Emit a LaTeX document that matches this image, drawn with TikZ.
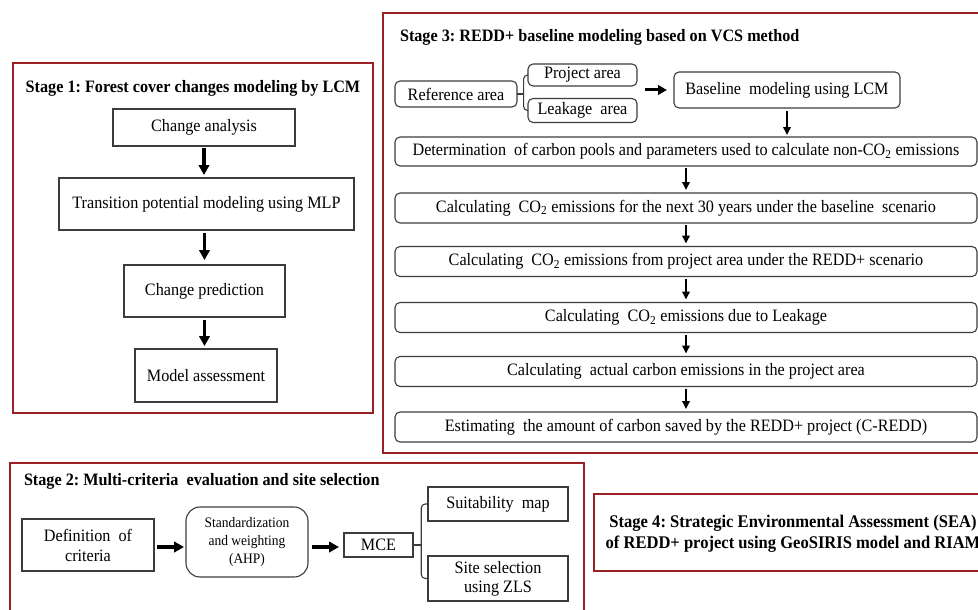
\documentclass[tikz,border=0pt]{standalone}
\usepackage{fontspec}
\setmainfont[FakeStretch=0.93]{Liberation Serif}
\usetikzlibrary{arrows.meta,calc}
\definecolor{frame}{RGB}{155,32,38}
\definecolor{boxline}{RGB}{60,60,60}
\frenchspacing
\begin{document}
\begin{tikzpicture}[x=1pt,y=-1pt,
  every node/.style={inner sep=0pt,outer sep=0pt},
  body/.style={font=\fontsize{17.4}{20}\selectfont},
  ttl/.style={font=\fontsize{17.4}{20}\selectfont\bfseries},
  sq/.style={draw=boxline,line width=1.1pt,align=center,body},
  rd/.style={sq,rounded corners=5pt},
  stagebox/.style={draw=frame,line width=2pt},
  conn/.style={draw=boxline,line width=1.1pt},
  bigarrow/.style={line width=3.6pt,-{Triangle[width=10.5pt,length=10pt]}},
  thinarrow/.style={line width=1.8pt,-{Triangle[width=7.5pt,length=8pt]}},
]
\useasboundingbox (0,0) rectangle (978,610);
\begin{scope}
\clip (0,0) rectangle (978,610);

% ---------- Stage 1 ----------
\draw[stagebox] (13,63) rectangle (373,413);
\node[ttl] (t1) at (193,88) {Stage 1: Forest cover changes modeling by LCM};
\node[sq,minimum width=182pt,minimum height=37pt] (ca) at (204,127.5) {Change analysis};
\node[sq,minimum width=295pt,minimum height=52pt] (tp) at (206.5,204) {Transition potential modeling using MLP};
\node[sq,minimum width=161pt,minimum height=52pt] (cp) at (204.5,291) {Change prediction};
\node[sq,minimum width=142pt,minimum height=53pt] (ma) at (206,375.5) {Model assessment};
\draw[bigarrow,shorten <=2pt,shorten >=3pt] (ca.south) -- (ca.south |- tp.north);
\draw[bigarrow,shorten <=3pt,shorten >=5pt] (cp.north |- tp.south) -- (cp.north);
\draw[bigarrow,shorten <=3pt,shorten >=3pt] (cp.south) -- (cp.south |- ma.north);

% ---------- Stage 3 ----------
\draw[stagebox] (383,13) rectangle (989,453);
\node[ttl,anchor=west] (t3) at (400,37) {Stage 3: REDD+ baseline modeling based on VCS method};
\node[rd,minimum width=122pt,minimum height=26pt] (ref) at (456,94) {Reference area};
\node[rd,minimum width=109pt,minimum height=22pt] (proj) at (582.5,75) {Project area};
\node[rd,minimum width=109pt,minimum height=24pt] (leak) at (582.5,110.5) {Leakage\ \ area};
\node[rd,minimum width=226pt,minimum height=36pt] (base) at (787,90) {Baseline\ \ modeling using LCM};
\coordinate (br3) at ($(ref.east)!0.6!(ref.east -| proj.west)$);
\draw[conn] (ref.east) -- (br3);
\draw[conn,rounded corners=4pt] (proj.west) -| (br3) |- (leak.west);
\coordinate (a3s) at ($(proj.east |- base.west)+(8,0)$);
\coordinate (a3e) at ($(base.west)+(-7,0)$);
\draw[line width=3pt,-{Triangle[width=9.5pt,length=9pt]}] (a3s) -- (a3e);

\node[rd,minimum width=582pt,minimum height=29pt] (det) at (686,151.5) {Determination\ \ of carbon pools and parameters used to calculate non-CO\textsubscript{2} emissions};
\node[rd,minimum width=582pt,minimum height=30pt] (c1) at (686,208) {Calculating\ \ CO\textsubscript{2} emissions for the next 30 years under the baseline\ \ scenario};
\node[rd,minimum width=582pt,minimum height=30pt] (c2) at (686,261.5) {Calculating\ \ CO\textsubscript{2} emissions from project area under the REDD+ scenario};
\node[rd,minimum width=582pt,minimum height=30pt] (c3) at (686,317.5) {Calculating\ \ CO\textsubscript{2} emissions due to Leakage};
\node[rd,minimum width=582pt,minimum height=30pt] (c4) at (686,371.5) {Calculating\ \ actual carbon emissions in the project area};
\node[rd,minimum width=582pt,minimum height=30pt] (c5) at (686,427) {Estimating\ \ the amount of carbon saved by the REDD+ project (C-REDD)};
\draw[thinarrow,shorten <=3pt,shorten >=2pt] (base.south) -- (base.south |- det.north);
\draw[thinarrow,shorten <=2pt,shorten >=3pt] (det.south) -- (c1.north);
\draw[thinarrow,shorten <=2pt,shorten >=3pt] (c1.south) -- (c2.north);
\draw[thinarrow,shorten <=2pt,shorten >=3pt] (c2.south) -- (c3.north);
\draw[thinarrow,shorten <=2pt,shorten >=3pt] (c3.south) -- (c4.north);
\draw[thinarrow,shorten <=2pt,shorten >=3pt] (c4.south) -- (c5.north);

% ---------- Stage 2 ----------
\draw[stagebox] (10,463) rectangle (584,625);
\node[ttl,anchor=west] (t2) at (24,481) {Stage 2: Multi-criteria\ \ evaluation and site selection};
\node[sq,minimum width=132pt,minimum height=52pt] (def) at (88,545) {Definition\ \ of\\criteria};
\node[sq,rounded corners=14pt,minimum width=122pt,minimum height=70pt,font=\fontsize{14.5}{18}\selectfont] (std) at (247,542) {Standardization\\and weighting\\(AHP)};
\node[sq,minimum width=69pt,minimum height=24pt] (mce) at (378.5,545) {MCE};
\node[sq,minimum width=140pt,minimum height=34pt] (suit) at (498,504) {Suitability\ \ map};
\node[sq,minimum width=140pt,minimum height=45pt,font=\fontsize{17.4}{19}\selectfont] (site) at (498,578.5) {Site selection\\using ZLS};
\draw[bigarrow,shorten <=3pt,shorten >=2pt] ($(def.east)+(0,2)$) -- ($(def.east -| std.west)+(0,2)$);
\draw[bigarrow,shorten <=4pt,shorten >=5pt] ($(mce.west -| std.east)+(0,2)$) -- ($(mce.west)+(0,2)$);
\coordinate (br2) at ($(mce.east)!0.55!(mce.east -| suit.west)$);
\draw[conn] (mce.east) -- (br2);
\draw[conn,rounded corners=4pt] (suit.west) -| (br2) |- (site.west);

% ---------- Stage 4 ----------
\draw[stagebox] (594,494) rectangle (992,571);
\node[ttl,align=center,font=\fontsize{17.8}{21}\selectfont\bfseries] (s4) at (793,533.5) {Stage 4: Strategic Environmental Assessment (SEA)\\of REDD+ project using GeoSIRIS model and RIAM};
\end{scope}
\end{tikzpicture}
\end{document}
